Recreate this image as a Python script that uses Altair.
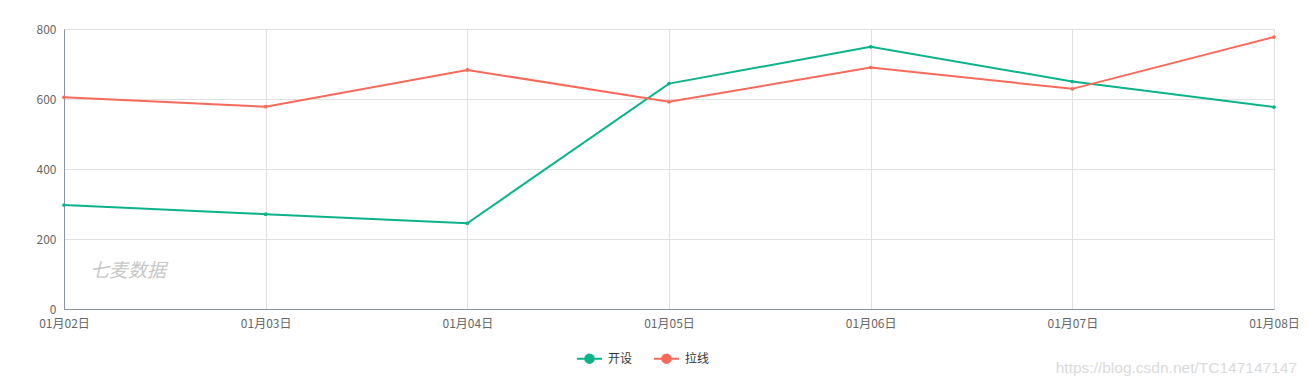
import altair as alt
import pandas as pd

dates = ["01月02日", "01月03日", "01月04日", "01月05日", "01月06日", "01月07日", "01月08日"]
series_names = ["开设", "拉线"]
green_values = [297, 271, 245, 644, 749, 650, 577]
red_values = [605, 578, 683, 592, 690, 629, 777]
colors = ["#0BB38A", "#F9695A"]

rows = []
for d, v in zip(dates, green_values):
    rows.append({"date": d, "value": v, "series": series_names[0]})
for d, v in zip(dates, red_values):
    rows.append({"date": d, "value": v, "series": series_names[1]})
df = pd.DataFrame(rows)

FONT = "Noto Sans CJK SC"

x_enc = alt.X("date:N", sort=dates, scale=alt.Scale(type="point", padding=0),
              axis=alt.Axis(title=None, labelAngle=0, grid=True, gridColor="#E0E0E0",
                            domainColor="#8A93A0", ticks=False, labelPadding=9,
                            labelColor="#666666", labelFontSize=12, labelFont=FONT))
y_enc = alt.Y("value:Q", scale=alt.Scale(domain=[0, 800], nice=False),
              axis=alt.Axis(title=None, values=[0, 200, 400, 600, 800], grid=True,
                            gridColor="#E0E0E0", domainColor="#8A93A0", ticks=False,
                            labelPadding=8, labelColor="#666666", labelFontSize=12,
                            labelFont=FONT))
color_scale = alt.Scale(domain=series_names, range=colors)

legend_path = ("M-1,0L-0.34,0M0.34,0L1,0"
               "M-0.34,0A0.34,0.34,0,1,1,0.34,0A0.34,0.34,0,1,1,-0.34,0Z")

leg = alt.Legend(title=None, orient="none", legendX=512, legendY=316,
                 direction="horizontal", symbolType=legend_path,
                 symbolSize=625, symbolStrokeWidth=2, symbolOpacity=1,
                 labelOffset=5, columnPadding=17, labelFontSize=12,
                 labelColor="#333333", labelFont=FONT)

base = alt.Chart(df)
lines = base.mark_line(strokeWidth=2).encode(
    x=x_enc, y=y_enc,
    color=alt.Color("series:N", scale=color_scale, sort=series_names, legend=leg),
)
points = base.mark_point(filled=True, size=14, opacity=1, strokeWidth=0).encode(
    x=x_enc, y=y_enc,
    color=alt.Color("series:N", scale=color_scale, sort=series_names, legend=leg),
    stroke=alt.Stroke("series:N", scale=color_scale, sort=series_names, legend=leg),
)

wm1 = alt.Chart(pd.DataFrame({"t": ["七麦数据"]})).mark_text(
    font=FONT, fontSize=19, fontStyle="italic", color="#C8C8C8", align="left",
    baseline="middle").encode(text="t:N", x=alt.value(26), y=alt.value(242))

wm2 = alt.Chart(pd.DataFrame({"t": ["https://blog.csdn.net/TC147147147"]})).mark_text(
    font="Liberation Sans", fontSize=15.5, color="#DADADA", align="right",
    baseline="middle").encode(text="t:N", x=alt.value(1233), y=alt.value(339))

chart = alt.layer(lines, points, wm1, wm2).properties(
    width=1210, height=280,
    autosize=alt.AutoSizeParams(type="none"),
    padding={"left": 56, "top": 21, "right": 26, "bottom": 68},
).configure_view(stroke=None).configure(background="white")

chart.save("out.html", embed_options={"renderer": "svg", "actions": False})
